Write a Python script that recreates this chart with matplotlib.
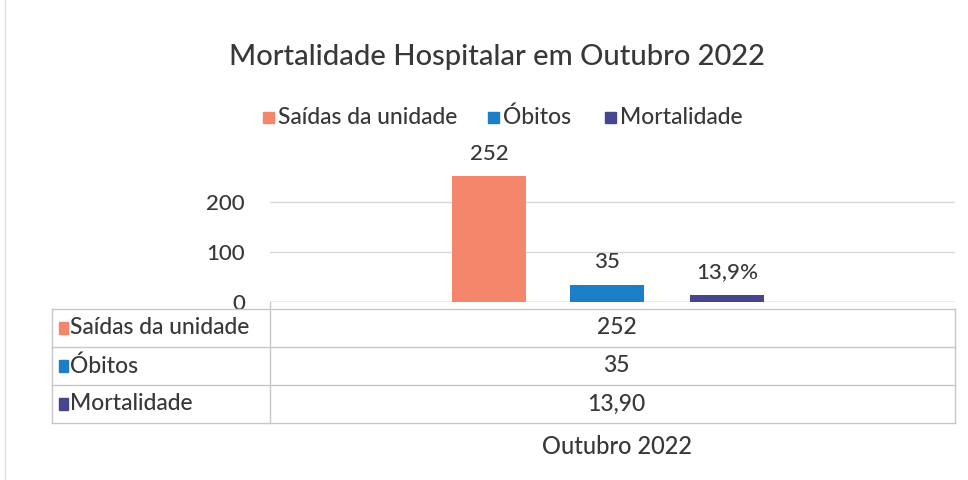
import numpy as np
import matplotlib
matplotlib.use("Agg")
import matplotlib.pyplot as plt
from matplotlib.patches import Rectangle

plt.rcParams["font.family"] = ["Lato", "DejaVu Sans"]
plt.rcParams["font.weight"] = "medium"

title = "Mortalidade Hospitalar em Outubro 2022"
category = "Outubro 2022"
series = ["Saídas da unidade", "Óbitos", "Mortalidade"]
values = [252, 35, 13.9]
bar_labels = ["252", "35", "13,9%"]
table_values = ["252", "35", "13,90"]
colors = ["#F4866C", "#1B7EC6", "#45468F"]
yticks = [0, 100, 200]

W, H = 968, 480
fig = plt.figure(figsize=(W / 100, H / 100), dpi=100)
fig.patch.set_facecolor("white")
text_color = "#383838"
fs = 16.5


def fx(px):
    return px / W


def fy(py):
    return 1 - py / H


# plot area (pixels): x 270..955, y 302 (zero) up to 172
ax_left, ax_right, ax_zero, ax_top = 270, 955, 302, 172
ax = fig.add_axes([fx(ax_left), fy(ax_zero), fx(ax_right - ax_left),
                   (ax_zero - ax_top) / H])
ax.set_xlim(0, 1)
ax.set_ylim(0, 260)
for s in ax.spines.values():
    s.set_visible(False)
ax.set_xticks([])
ax.set_yticks(yticks)
ax.set_yticklabels([str(t) for t in yticks], fontsize=16, color=text_color)
ax.yaxis.set_tick_params(length=0, pad=18)
ax.yaxis.grid(True, color="#D9D9D9", linewidth=1.0)
ax.set_axisbelow(True)
ax.axhline(0, color="#BFBFBF", linewidth=1.0, zorder=1)

# bar centers relative to axes width
span = ax_right - ax_left
centers = [(489 - ax_left) / span, (607 - ax_left) / span, (727 - ax_left) / span]
bw = 74 / span
for c, v, col, lab in zip(centers, values, colors, bar_labels):
    ax.bar(c, v, width=bw, color=col, zorder=2)
    ax.annotate(lab, (c, v), xytext=(0, 9), textcoords="offset points",
                ha="center", va="bottom", fontsize=16, color=text_color)

# title
fig.text(fx(497), fy(57), title, ha="center", va="center", fontsize=21,
         color=text_color)

# legend row
leg_y = fy(117)
leg_items = [(263, series[0]), (488, series[1]), (605, series[2])]
for (x0, name), col in zip(leg_items, colors):
    fig.add_artist(Rectangle((fx(x0), leg_y - 6 / H), 11 / W, 11 / H,
                             color=col, transform=fig.transFigure))
    fig.text(fx(x0 + 15), leg_y, name, ha="left", va="center", fontsize=fs,
             color=text_color)

# data table
tab_left, tab_div, tab_right = 52, ax_left, ax_right
row_lines = [309, 347, 385, 423]
line_col = "#C8C8C8"
for y in row_lines:
    fig.add_artist(plt.Line2D([fx(tab_left), fx(tab_right)], [fy(y), fy(y)],
                              color=line_col, linewidth=1.0))
for x in (tab_left, tab_right):
    fig.add_artist(plt.Line2D([fx(x), fx(x)], [fy(row_lines[0]), fy(row_lines[-1])],
                              color=line_col, linewidth=1.0))
fig.add_artist(plt.Line2D([fx(tab_div), fx(tab_div)], [fy(ax_zero), fy(row_lines[-1])],
                          color=line_col, linewidth=1.0))

val_x = (tab_div + tab_right) / 2 + 4
for i, (name, val, col) in enumerate(zip(series, table_values, colors)):
    yc = (row_lines[i] + row_lines[i + 1]) / 2
    fig.add_artist(Rectangle((fx(59), fy(yc) - 6 / H), 9 / W, 12 / H,
                             color=col, transform=fig.transFigure))
    fig.text(fx(70), fy(yc), name, ha="left", va="center", fontsize=fs,
             color=text_color)
    fig.text(fx(val_x), fy(yc), val, ha="center", va="center", fontsize=fs,
             color=text_color)

fig.text(fx(val_x), fy(446), category, ha="center", va="center", fontsize=fs + 0.5,
         color=text_color)

# chart border on the left
fig.add_artist(plt.Line2D([fx(5), fx(5)], [0, 1], color="#E0E0E0", linewidth=1.0))

fig.savefig("out.png", dpi=100, facecolor="white")
